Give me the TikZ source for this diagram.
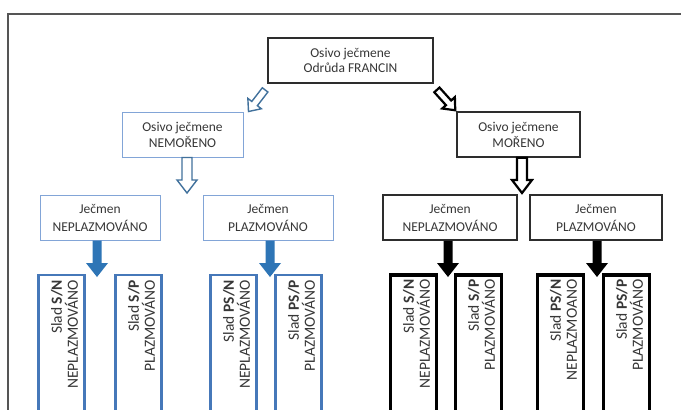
\documentclass[tikz,border=0pt]{standalone}
\usepackage{fontspec}
\setmainfont{Carlito}
\usetikzlibrary{calc}
\definecolor{txt}{RGB}{55,55,55}
\definecolor{bluel}{RGB}{130,165,215}
\definecolor{bluefour}{RGB}{70,120,185}
\definecolor{bluefill}{RGB}{46,117,182}
\definecolor{blueout}{RGB}{65,113,156}
\definecolor{darkl}{RGB}{45,45,45}
\definecolor{framec}{RGB}{85,85,85}
\tikzset{
  shafthalf/.store in=\BAshaft, headhalf/.store in=\BAhead, headlen/.store in=\BAlen,
  shafthalf=4pt, headhalf=10pt, headlen=12pt,
  blockarrow/.style={to path={
    ($(\tikztostart)!\BAshaft!-90:(\tikztotarget)$)
    -- ($(\tikztotarget)!\BAlen!(\tikztostart)!\BAshaft!90:(\tikztostart)$)
    -- ($(\tikztotarget)!\BAlen!(\tikztostart)!\BAhead!90:(\tikztostart)$)
    -- (\tikztotarget)
    -- ($(\tikztotarget)!\BAlen!(\tikztostart)!\BAhead!-90:(\tikztostart)$)
    -- ($(\tikztotarget)!\BAlen!(\tikztostart)!\BAshaft!-90:(\tikztostart)$)
    -- ($(\tikztostart)!\BAshaft!90:(\tikztotarget)$)
    -- cycle}},
  box/.style={draw, rectangle, inner sep=0pt, align=center, text=txt,
    font=\fontsize{13.5}{16}\selectfont},
  bluebox/.style={box, draw=bluel, line width=1pt},
  blackbox/.style={box, draw=darkl, line width=1.8pt},
  lfbox/.style={draw, rectangle, inner sep=0pt, minimum width=46pt, minimum height=150pt},
  lfblue/.style={lfbox, draw=bluefour, line width=2.5pt},
  lfblack/.style={lfbox, draw=black, line width=3.5pt},
  lftext/.style={rotate=90, anchor=east, align=right, inner sep=0pt, text=txt,
    font=\fontsize{15.5}{16}\selectfont},
  hollowblue/.style={draw=blueout, fill=white, line width=1.4pt, line join=miter},
  hollowblack/.style={draw=black, fill=white, line width=2.2pt, line join=miter},
  solidblue/.style={fill=bluefill, draw=none},
  solidblack/.style={fill=black, draw=none},
}
\begin{document}
\begin{tikzpicture}[x=1pt,y=-1pt]
\clip (0,0) rectangle (681,410);
\fill[white] (0,0) rectangle (681,410);
\draw[framec, line width=1.5pt] (8,14) rectangle (720,440);

% level 1 and 2
\node[box, draw=darkl, line width=1.8pt, minimum width=165pt, minimum height=45pt,
  font=\fontsize{13.5}{15}\selectfont] (top) at (350.5,60.5) {Osivo ječmene\\Odrůda FRANCIN};
\node[bluebox, minimum width=121pt, minimum height=45pt] (nemo) at (182.5,134.5) {Osivo ječmene\\NEMOŘENO};
\node[box, draw=darkl, line width=1.5pt, minimum width=123pt, minimum height=45pt] (more) at (518.5,134.5) {Osivo ječmene\\MOŘENO};

% level 3
\tikzset{lt/.style={minimum height=45pt, font=\fontsize{13.5}{18}\selectfont}}
\node[bluebox, lt, minimum width=120pt] (j1) at (100,217.5) {Ječmen\\NEPLAZMOVÁNO};
\node[bluebox, lt, minimum width=130pt] (j2) at (268,217.5) {Ječmen\\PLAZMOVÁNO};
\node[blackbox, lt, minimum width=134pt] (k1) at (450,217.5) {Ječmen\\NEPLAZMOVÁNO};
\node[blackbox, lt, minimum width=132pt] (k2) at (596,217.5) {Ječmen\\PLAZMOVÁNO};

% level 4 boxes
\node[lfblue] (s1) at (61.5,350) {};
\node[lfblue] (s2) at (138.5,350) {};
\node[lfblue] (s3) at (233.5,350) {};
\node[lfblue] (s4) at (298.5,350) {};
\node[lfblack] (t1) at (413.5,350) {};
\node[lfblack] (t2) at (478.5,350) {};
\node[lfblack] (t3) at (560.5,350) {};
\node[lfblack] (t4) at (626.5,350) {};

% level 4 texts
\node[lftext] (s1t) at ($(s1.north)+(3,6)$) {Slad \textbf{S/N}\\NEPLAZMOVÁNO};
\node[lftext] (s2t) at ($(s2.north)+(3,6)$) {Slad \textbf{S/P}\\PLAZMOVÁNO};
\node[lftext] (s3t) at ($(s3.north)+(3,6)$) {Slad \textbf{PS/N}\\NEPLAZMOVÁNO};
\node[lftext] (s4t) at ($(s4.north)+(3,6)$) {Slad \textbf{PS/P}\\PLAZMOVÁNO};
\node[lftext] (t1t) at ($(t1.north)+(3,6)$) {Slad \textbf{S/N}\\NEPLAZMOVÁNO};
\node[lftext] (t2t) at ($(t2.north)+(3,6)$) {Slad \textbf{S/P}\\PLAZMOVÁNO};
\node[lftext] (t3t) at ($(t3.north)+(3,6)$) {Slad \textbf{PS/N}\\NEPLAZMOANO};
\node[lftext] (t4t) at ($(t4.north)+(3,6)$) {Slad \textbf{PS/P}\\PLAZMOVÁNO};

% arrow end coordinates
\coordinate (d1s) at ($(top.south west)+(-2,6)$);
\coordinate (d1e) at ($(nemo.north east)+(5,0)$);
\coordinate (d2s) at ($(top.south east)+(3,6)$);
\coordinate (d2e) at ($(more.north west)+(-1,-1)$);
\coordinate (v1e) at (187,193);
\coordinate (v2e) at (522,193);
\coordinate (f1) at (97,277);
\coordinate (f2) at (270,277);
\coordinate (f3) at (448,277);
\coordinate (f4) at (597,277);

% hollow arrows
\draw[hollowblue, shafthalf=3.5pt, headhalf=8.5pt, headlen=10pt] (d1s) to[blockarrow] (d1e);
\draw[hollowblack, shafthalf=3.5pt, headhalf=8.5pt, headlen=10pt] (d2s) to[blockarrow] (d2e);
\draw[hollowblue, shafthalf=5pt, headhalf=10pt, headlen=13pt] (nemo.south -| v1e) to[blockarrow] (v1e);
\draw[hollowblack, shafthalf=5pt, headhalf=10pt, headlen=13pt] (more.south -| v2e) to[blockarrow] (v2e);

% filled arrows
\draw[solidblue, shafthalf=4.5pt, headhalf=11pt, headlen=14pt] (j1.south -| f1) to[blockarrow] (f1);
\draw[solidblue, shafthalf=4.5pt, headhalf=11pt, headlen=14pt] (j2.south -| f2) to[blockarrow] (f2);
\draw[solidblack, shafthalf=4.5pt, headhalf=11pt, headlen=14pt] (k1.south -| f3) to[blockarrow] (f3);
\draw[solidblack, shafthalf=4.5pt, headhalf=11pt, headlen=14pt] (k2.south -| f4) to[blockarrow] (f4);
\end{tikzpicture}
\end{document}
